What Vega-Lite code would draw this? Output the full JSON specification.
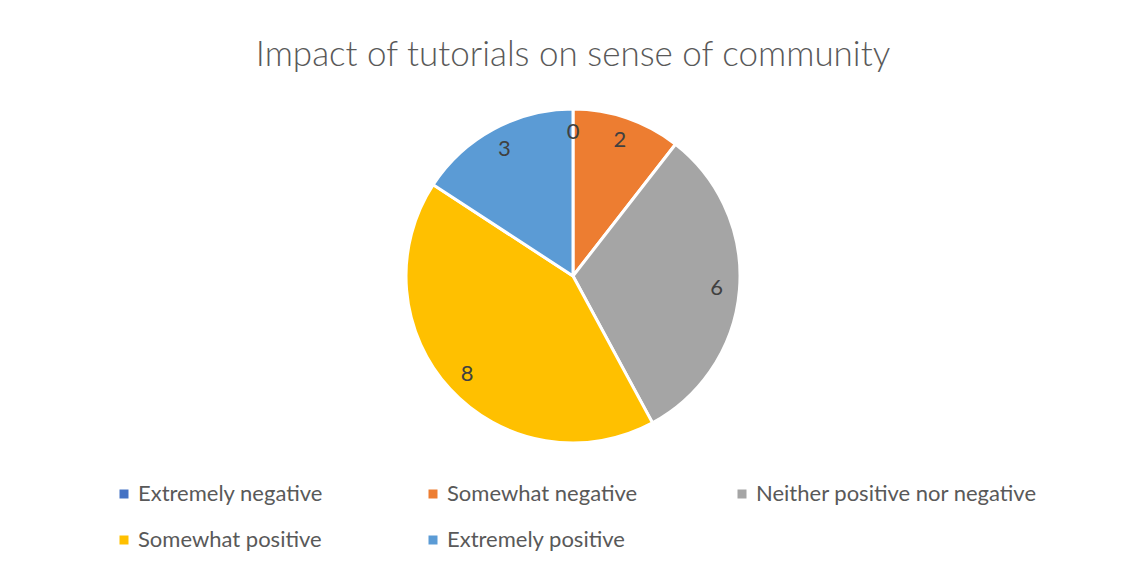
{
  "$schema": "https://vega.github.io/schema/vega-lite/v6.json",
  "autosize": "none",
  "padding": {"left": 17, "top": 0, "right": 0, "bottom": 18},
  "width": 1112,
  "height": 552,
  "background": "white",
  "title": {
    "text": "Impact of tutorials on sense of community",
    "orient": "top",
    "anchor": "middle",
    "offset": -73,
    "fontSize": 35,
    "font": "Lato",
    "fontWeight": 300,
    "color": "#595959"
  },
  "data": {
    "values": [
      {"response": "Extremely negative", "count": 0, "k": 1},
      {"response": "Somewhat negative", "count": 2, "k": 2},
      {"response": "Neither positive nor negative", "count": 6, "k": 3},
      {"response": "Somewhat positive", "count": 8, "k": 4},
      {"response": "Extremely positive", "count": 3, "k": 5}
    ]
  },
  "encoding": {
    "theta": {"field": "count", "type": "quantitative", "stack": true},
    "order": {"field": "k", "type": "quantitative"},
    "color": {
      "field": "response",
      "type": "nominal",
      "scale": {
        "domain": ["Extremely negative", "Somewhat negative", "Neither positive nor negative", "Somewhat positive", "Extremely positive"],
        "range": ["#4472C4", "#ED7D31", "#A5A5A5", "#FFC000", "#5B9BD5"]
      },
      "legend": {
        "title": null,
        "orient": "none",
        "legendX": 96,
        "legendY": 483,
        "direction": "horizontal",
        "columns": 3,
        "gridAlign": "all",
        "columnPadding": 3,
        "rowPadding": 24,
        "symbolType": "square",
        "symbolSize": 81,
        "symbolStrokeWidth": 0,
        "labelFontSize": 22,
        "labelFont": "Lato",
        "labelColor": "#595959",
        "labelOffset": 3,
        "labelLimit": 400
      }
    }
  },
  "layer": [
    {
      "mark": {"type": "arc", "outerRadius": 167, "stroke": "white", "strokeWidth": 3}
    },
    {
      "mark": {"type": "text", "radius": 144, "fontSize": 22, "font": "Lato", "color": "#404040"},
      "encoding": {
        "text": {"field": "count", "type": "quantitative"},
        "color": {"value": "#404040"}
      }
    }
  ],
  "config": {
    "view": {"stroke": null}
  }
}
